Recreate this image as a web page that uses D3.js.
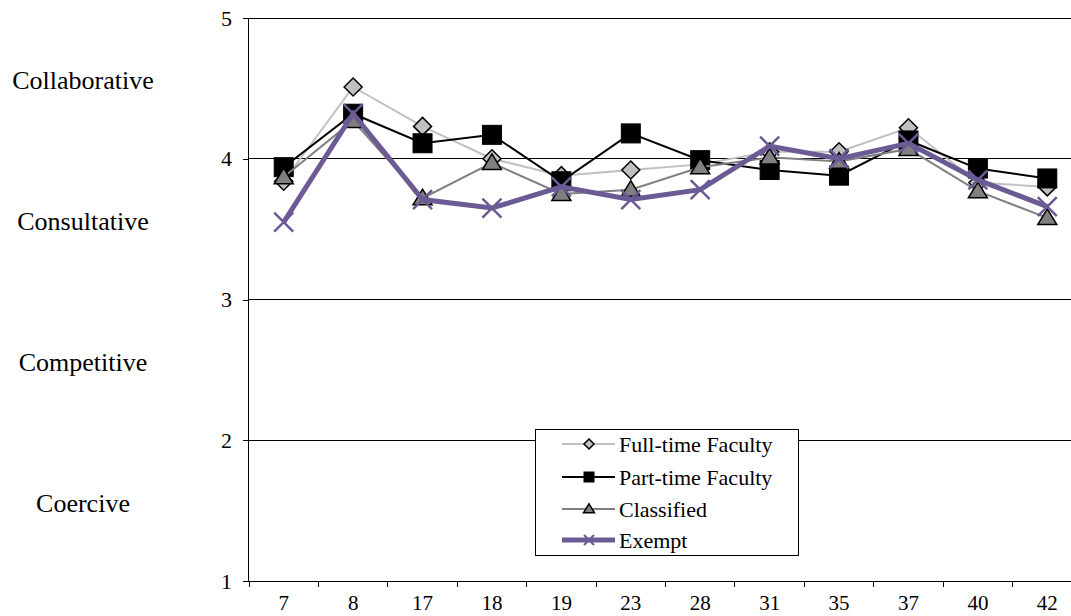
<!DOCTYPE html>
<html>
<head>
<meta charset="utf-8">
<script src="https://cdn.jsdelivr.net/npm/d3@7"></script>
<style>
  html, body { margin: 0; padding: 0; background: #fff; }
  svg { display: block; font-family: "Liberation Serif", "Times New Roman", serif; }
</style>
</head>
<body>
<svg id="chart" width="1071" height="616"></svg>
<script>
// Survey item numbers along the x axis
const categories = ["7", "8", "17", "18", "19", "23", "28", "31", "35", "37", "40", "42"];

// Mean scores per employee group
const fullTime  = [3.84, 4.51, 4.23, 4.00, 3.88, 3.92, 3.96, 4.05, 4.05, 4.22, 3.83, 3.80];
const partTime  = [3.94, 4.32, 4.11, 4.17, 3.84, 4.18, 3.99, 3.92, 3.88, 4.13, 3.93, 3.86];
const classified = [3.87, 4.27, 3.72, 3.97, 3.75, 3.78, 3.94, 4.01, 3.98, 4.07, 3.77, 3.58];
const exempt    = [3.55, 4.32, 3.71, 3.65, 3.80, 3.71, 3.78, 4.09, 4.00, 4.11, 3.85, 3.66];

const yTicks = [1, 2, 3, 4, 5];
const styleNames = ["Collaborative", "Consultative", "Competitive", "Coercive"];
const styleMids = [4.5, 3.5, 2.5, 1.5];

const seriesNames = ["Full-time Faculty", "Part-time Faculty", "Classified", "Exempt"];

const series = [
  { name: seriesNames[0], values: fullTime,   color: "#c0c0c0", width: 2,   marker: "diamond",  fill: "#c0c0c0" },
  { name: seriesNames[1], values: partTime,   color: "#000000", width: 2,   marker: "square",   fill: "#000000" },
  { name: seriesNames[2], values: classified, color: "#808080", width: 2,   marker: "triangle", fill: "#808080" },
  { name: seriesNames[3], values: exempt,     color: "#6c5a94", width: 5,   marker: "cross",    fill: "none" }
];

const svg = d3.select("#chart");

const plotLeft = 248, plotRight = 1082, plotTop = 18, plotBottom = 581;

const x = d3.scaleBand().domain(categories).range([plotLeft + 1, plotRight]).padding(0);
const xc = c => x(c) + x.bandwidth() / 2;
const y = d3.scaleLinear().domain([1, 5]).range([plotBottom, plotTop]);

// Horizontal gridlines
svg.append("g").selectAll("line")
  .data(yTicks.filter(t => t > 1))
  .join("line")
  .attr("x1", plotLeft).attr("x2", plotRight)
  .attr("y1", d => y(d)).attr("y2", d => y(d))
  .attr("stroke", "#000").attr("stroke-width", 1)
  .attr("shape-rendering", "crispEdges");

// Y axis
const yAxis = d3.axisLeft(y).tickValues(yTicks).tickSize(5).tickPadding(11).tickFormat(d3.format("d"));
const gy = svg.append("g").attr("transform", `translate(${plotLeft},0)`).call(yAxis);
gy.select(".domain").attr("stroke", "#000").attr("shape-rendering", "crispEdges");
gy.selectAll(".tick line").attr("stroke", "#000").attr("shape-rendering", "crispEdges");
gy.selectAll(".tick text").attr("font-family", "Liberation Serif").attr("font-size", 22).attr("fill", "#000");

// X axis: baseline, boundary ticks, centred labels
svg.append("line")
  .attr("x1", plotLeft).attr("x2", plotRight).attr("y1", plotBottom).attr("y2", plotBottom)
  .attr("stroke", "#000").attr("shape-rendering", "crispEdges");

const boundaries = categories.map(c => x(c)).concat([x.range()[1]]);
svg.append("g").selectAll("line")
  .data(boundaries)
  .join("line")
  .attr("x1", d => d).attr("x2", d => d)
  .attr("y1", plotBottom).attr("y2", plotBottom + 6)
  .attr("stroke", "#000").attr("shape-rendering", "crispEdges");

svg.append("g").selectAll("text")
  .data(categories)
  .join("text")
  .attr("x", d => xc(d))
  .attr("y", 610)
  .attr("text-anchor", "middle")
  .attr("font-size", 21)
  .text(d => d);

// Style labels on the left
svg.append("g").selectAll("text")
  .data(styleNames)
  .join("text")
  .attr("x", 83)
  .attr("y", (d, i) => y(styleMids[i]) + 1)
  .attr("text-anchor", "middle")
  .attr("font-size", 26)
  .text(d => d);

// Marker drawing
function drawMarker(g, type, size, fill, stroke, crossWidth) {
  const s = size;
  if (type === "diamond") {
    g.append("path")
      .attr("d", `M0,${-s}L${s},0L0,${s}L${-s},0Z`)
      .attr("fill", fill).attr("stroke", "#000").attr("stroke-width", 1.5);
  } else if (type === "square") {
    g.append("rect")
      .attr("x", -s).attr("y", -s).attr("width", 2 * s).attr("height", 2 * s)
      .attr("fill", fill).attr("stroke", "#000").attr("stroke-width", 1);
  } else if (type === "triangle") {
    g.append("path")
      .attr("d", `M0,${-s * 0.95}L${s},${s * 0.7}L${-s},${s * 0.7}Z`)
      .attr("fill", fill).attr("stroke", "#000").attr("stroke-width", 1.5);
  } else if (type === "cross") {
    g.append("path")
      .attr("d", `M${-s},${-s}L${s},${s}M${-s},${s}L${s},${-s}`)
      .attr("fill", "none").attr("stroke", stroke).attr("stroke-width", crossWidth);
  }
}

const markerSize = { diamond: 9, square: 9.5, triangle: 9.5, cross: 9.5 };

const line = d3.line().x((d, i) => xc(categories[i])).y(d => y(d));

series.forEach(s => {
  const g = svg.append("g");
  g.append("path")
    .datum(s.values)
    .attr("d", line)
    .attr("fill", "none")
    .attr("stroke", s.color)
    .attr("stroke-width", s.width)
    .attr("stroke-linejoin", "miter");
  s.values.forEach((v, i) => {
    const m = g.append("g").attr("transform", `translate(${xc(categories[i])},${y(v)})`);
    drawMarker(m, s.marker, markerSize[s.marker], s.fill, s.color, 2.5);
  });
});

// Legend
const lg = svg.append("g");
lg.append("rect")
  .attr("x", 535.5).attr("y", 429.5).attr("width", 263).attr("height", 126)
  .attr("fill", "#fff").attr("stroke", "#000").attr("stroke-width", 1);

const legendRows = [444, 477, 509, 540];
const legendMarker = { diamond: 5, square: 5, triangle: 5.5, cross: 5 };
series.forEach((s, i) => {
  const ry = legendRows[i];
  lg.append("line")
    .attr("x1", 562).attr("x2", 615).attr("y1", ry).attr("y2", ry)
    .attr("stroke", s.color).attr("stroke-width", s.width);
  const m = lg.append("g").attr("transform", `translate(589,${ry})`);
  drawMarker(m, s.marker, legendMarker[s.marker], s.fill, s.color, 2);
  lg.append("text")
    .attr("x", 619).attr("y", ry + 8)
    .attr("font-size", 22)
    .text(s.name);
});
</script>
</body>
</html>
